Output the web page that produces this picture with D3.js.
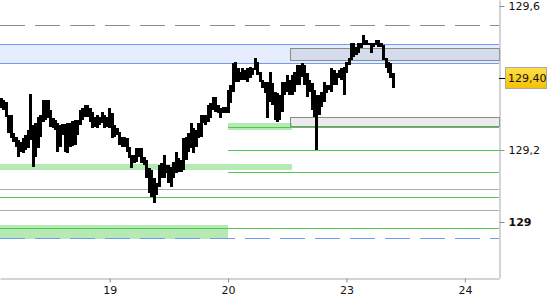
<!DOCTYPE html>
<html>
<head>
<meta charset="utf-8">
<script src="https://cdn.jsdelivr.net/npm/d3@7"></script>
<style>
  body { margin: 0; background: #fff; }
  svg { display: block; font-family: "DejaVu Sans", sans-serif; font-size: 11px; }
</style>
</head>
<body>
<svg id="chart"></svg>
<script>
// x axis: trading days (1 = the 19th)
const dayTicks = [1, 2, 3, 4];
const dayLabels = ['19', '20', '23', '24'];

// y axis
const priceTicks = [129, 129.2, 129.6];
const priceLabels = ['129', '129,2', '129,6'];
const lastPrice = 129.40;
const lastLabel = '129,40';

// bars, 48 per trading day
const barStart = 0.084;
const barsPerDay = 48;
const barHigh = [
  129.344, 129.339, 129.333, 129.297, 129.297, 129.247, 129.236, 129.228, 129.222, 129.233,
  129.242, 129.256, 129.356, 129.269, 129.275, 129.292, 129.297, 129.339, 129.339, 129.339,
  129.311, 129.289, 129.283, 129.275, 129.269, 129.272, 129.272, 129.275, 129.275, 129.281,
  129.283, 129.283, 129.311, 129.317, 129.325, 129.325, 129.317, 129.306, 129.292, 129.297,
  129.292, 129.306, 129.297, 129.292, 129.317, 129.303, 129.269, 129.261, 129.250, 129.236,
  129.236, 129.233, 129.208, 129.186, 129.186, 129.206, 129.206, 129.206, 129.181, 129.172,
  129.150, 129.144, 129.122, 129.108, 129.158, 129.164, 129.186, 129.158, 129.158, 129.153,
  129.167, 129.194, 129.178, 129.172, 129.233, 129.236, 129.247, 129.275, 129.261, 129.256,
  129.275, 129.297, 129.297, 129.297, 129.325, 129.331, 129.347, 129.347, 129.325, 129.317,
  129.319, 129.319, 129.367, 129.381, 129.442, 129.444, 129.428, 129.417, 129.428, 129.422,
  129.428, 129.431, 129.428, 129.456, 129.444, 129.417, 129.394, 129.389, 129.389, 129.417,
  129.386, 129.361, 129.358, 129.353, 129.389, 129.389, 129.408, 129.394, 129.408, 129.417,
  129.436, 129.436, 129.442, 129.436, 129.414, 129.394, 129.386, 129.367, 129.353, 129.353,
  129.361, 129.389, 129.381, 129.381, 129.428, 129.422, 129.414, 129.422, 129.428, 129.431,
  129.444, 129.456, 129.497, 129.497, 129.486, 129.497, 129.497, 129.519, 129.506, 129.497,
  129.497, 129.497, 129.506, 129.506, 129.497, 129.492, 129.456, 129.444, 129.442, 129.414
];
const barLow = [
  129.317, 129.311, 129.292, 129.247, 129.233, 129.222, 129.208, 129.181, 129.194, 129.192,
  129.200, 129.206, 129.228, 129.153, 129.181, 129.206, 129.236, 129.278, 129.283, 129.289,
  129.264, 129.261, 129.256, 129.194, 129.208, 129.242, 129.194, 129.192, 129.208, 129.211,
  129.214, 129.242, 129.269, 129.283, 129.292, 129.292, 129.278, 129.261, 129.264, 129.261,
  129.269, 129.275, 129.261, 129.264, 129.261, 129.233, 129.236, 129.242, 129.214, 129.208,
  129.208, 129.194, 129.178, 129.150, 129.164, 129.167, 129.181, 129.164, 129.158, 129.122,
  129.081, 129.069, 129.053, 129.075, 129.097, 129.122, 129.122, 129.136, 129.108, 129.097,
  129.122, 129.136, 129.139, 129.139, 129.144, 129.172, 129.194, 129.206, 129.192, 129.208,
  129.233, 129.236, 129.275, 129.269, 129.278, 129.289, 129.311, 129.306, 129.303, 129.289,
  129.303, 129.303, 129.303, 129.331, 129.361, 129.389, 129.389, 129.394, 129.394, 129.394,
  129.389, 129.400, 129.408, 129.422, 129.408, 129.389, 129.372, 129.358, 129.289, 129.333,
  129.325, 129.283, 129.278, 129.283, 129.306, 129.353, 129.361, 129.353, 129.353, 129.361,
  129.381, 129.381, 129.403, 129.381, 129.347, 129.361, 129.311, 129.292, 129.200, 129.297,
  129.319, 129.333, 129.358, 129.367, 129.361, 129.381, 129.381, 129.400, 129.394, 129.353,
  129.414, 129.436, 129.450, 129.458, 129.464, 129.469, 129.483, 129.492, 129.492, 129.492,
  129.469, 129.486, 129.492, 129.486, 129.486, 129.450, 129.428, 129.414, 129.400, 129.372
];

// zones: [low, high, fromDay, toDay]
const blueZone = [129.442, 129.494, 0, 5];
const grayZones = [[129.450, 129.483, 2.52, 5], [129.267, 129.292, 2.52, 5]];
const greenZones = [[129.256, 129.275, 2, 2.54], [129.144, 129.161, 0, 2.54], [128.954, 128.992, 0, 2]];
// lines: [price, fromDay]
const greenLines = [[129.2625, 2], [129.2, 2], [129.138, 2], [129.069, 0], [128.982, 0]];
const grayLines = [129.091, 129.033];
const dashedGray = 129.547;
const dashedBlue = 128.955;

class BarChart {
  constructor(_config) {
    this.config = {
      parentElement: _config.parentElement,
      containerWidth: 550,
      containerHeight: 300,
      plotWidth: 499,
      plotHeight: 278,
      dayDomain: [0.0735, 4.288],
      priceDomain: [128.8444, 129.6167]
    };
    this.initVis();
  }

  initVis() {
    const vis = this;
    const c = vis.config;

    vis.svg = d3.select(c.parentElement)
      .attr('width', c.containerWidth)
      .attr('height', c.containerHeight);

    vis.xScale = d3.scaleLinear().domain(c.dayDomain).range([0, c.plotWidth]).clamp(true);
    vis.yScale = d3.scaleLinear().domain(c.priceDomain).range([c.plotHeight, 0]);

    const defs = vis.svg.append('defs');
    const grad = defs.append('linearGradient')
      .attr('id', 'gold').attr('x1', 0).attr('y1', 0).attr('x2', 0).attr('y2', 1);
    grad.append('stop').attr('offset', '0%').attr('stop-color', '#ffe04a');
    grad.append('stop').attr('offset', '100%').attr('stop-color', '#f5c000');

    vis.levelsG = vis.svg.append('g').attr('class', 'levels').attr('shape-rendering', 'crispEdges');
    vis.barsG = vis.svg.append('g').attr('class', 'bars').attr('shape-rendering', 'crispEdges');
    vis.axesG = vis.svg.append('g').attr('class', 'axes');
  }

  renderVis() {
    const vis = this;
    const x = vis.xScale, y = vis.yScale;
    const W = vis.config.plotWidth;
    const py = v => Math.round(y(v)) + 0.5;

    const zone = (z, fill) => vis.levelsG.append('rect')
      .attr('x', x(z[2]))
      .attr('y', y(z[1]))
      .attr('width', x(z[3]) - x(z[2]))
      .attr('height', y(z[0]) - y(z[1]))
      .attr('fill', fill);

    const hline = (v, from, color, dash) => vis.levelsG.append('line')
      .attr('x1', x(from)).attr('x2', W)
      .attr('y1', py(v)).attr('y2', py(v))
      .attr('stroke', color)
      .attr('stroke-width', 1)
      .attr('stroke-dasharray', dash || null);

    // blue resistance band
    zone(blueZone, '#e5edff');
    hline(blueZone[0], 0, '#6f9cf0');
    hline(blueZone[1], 0, '#6f9cf0');

    // green support bands
    greenZones.forEach(z => zone(z, '#b5eab5'));

    // gray boxes
    grayZones.forEach(z => {
      vis.levelsG.append('rect')
        .attr('x', Math.round(x(z[2])) + 0.5)
        .attr('y', py(z[1]))
        .attr('width', W - Math.round(x(z[2])))
        .attr('height', py(z[0]) - py(z[1]))
        .attr('fill', 'rgba(110,110,110,0.14)')
        .attr('stroke', '#8a8a8a')
        .attr('stroke-width', 1);
    });

    grayLines.forEach(v => hline(v, 0, '#acacac'));
    greenLines.forEach(d => hline(d[0], d[1], '#52c852'));

    hline(dashedGray, 0, '#8c8c8c', '25,10');
    hline(dashedBlue, 0, '#6f9cf0', '25,10');

    // bars
    const step = 1 / barsPerDay;
    vis.barsG.selectAll('rect')
      .data(barHigh.map((h, i) => ({ t: barStart + i * step, high: h, low: barLow[i] })))
      .join('rect')
      .attr('x', d => x(d.t) - 1.5)
      .attr('width', 3)
      .attr('y', d => y(d.high))
      .attr('height', d => Math.max(1, y(d.low) - y(d.high)))
      .attr('fill', '#000');

    // x axis
    const xAxis = d3.axisBottom(x)
      .tickValues(dayTicks)
      .tickFormat((d, i) => dayLabels[i])
      .tickSize(4)
      .tickSizeOuter(0)
      .tickPadding(4);
    const xAxisG = vis.axesG.append('g')
      .attr('transform', `translate(0,${vis.config.plotHeight + 0.5})`)
      .call(xAxis);

    // y axis on the right
    const yAxis = d3.axisRight(y)
      .tickValues(priceTicks)
      .tickFormat((d, i) => priceLabels[i])
      .tickSize(5)
      .tickSizeOuter(0)
      .tickPadding(4);
    const yAxisG = vis.axesG.append('g')
      .attr('transform', `translate(${W + 0.5},0)`)
      .call(yAxis);

    [xAxisG, yAxisG].forEach(g => {
      g.attr('font-family', null).attr('font-size', null);
      g.select('.domain').attr('stroke', '#a8a8a8');
      g.selectAll('.tick line').attr('stroke', '#8a8a8a');
      g.selectAll('.tick text').attr('fill', '#111');
    });
    yAxisG.selectAll('.tick text')
      .attr('font-weight', d => d === 129 ? 'bold' : null);

    // last price marker
    const ly = Math.round(y(lastPrice)) + 0.5;
    vis.axesG.append('line')
      .attr('x1', W).attr('x2', W + 6)
      .attr('y1', ly).attr('y2', ly)
      .attr('stroke', '#000');
    vis.axesG.append('rect')
      .attr('x', W + 6.5).attr('y', ly - 11)
      .attr('width', 41).attr('height', 21)
      .attr('fill', 'url(#gold)')
      .attr('stroke', '#a9a9a9');
    vis.axesG.append('text')
      .attr('x', W + 9).attr('y', ly)
      .attr('dy', '0.35em')
      .attr('fill', '#111')
      .text(lastLabel);
  }
}

const chart = new BarChart({ parentElement: '#chart' });
chart.renderVis();
</script>
</body>
</html>
